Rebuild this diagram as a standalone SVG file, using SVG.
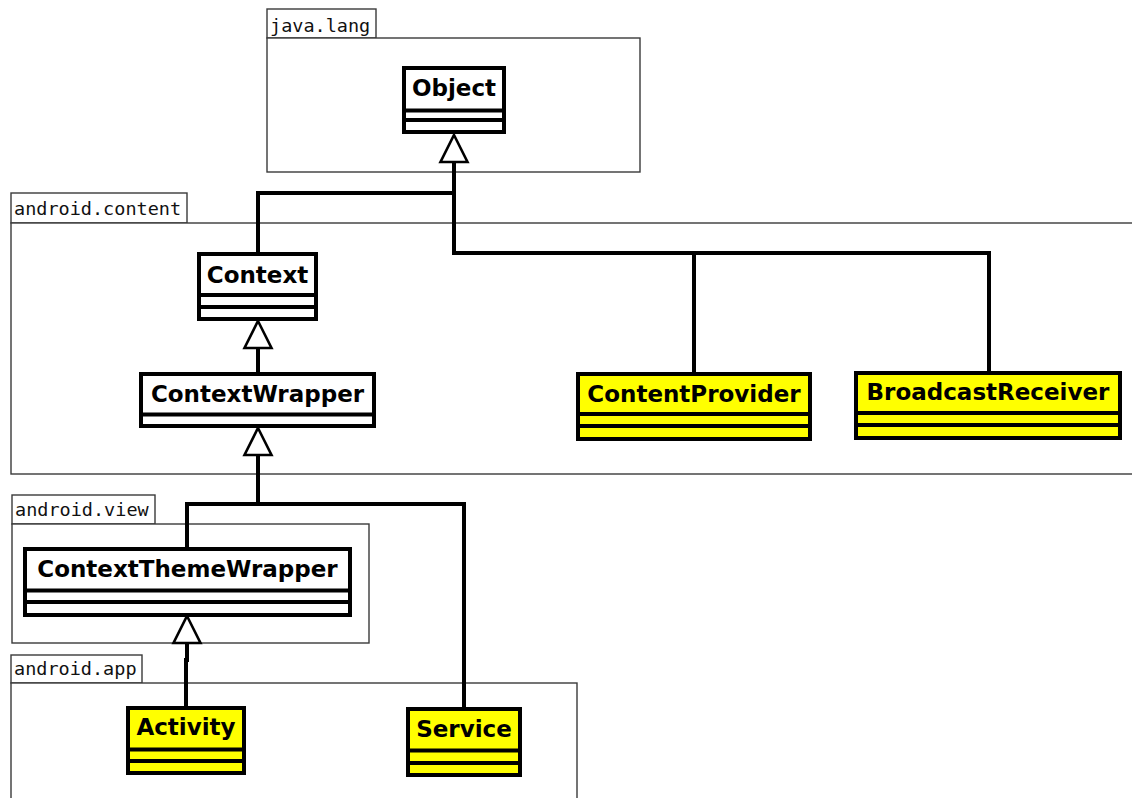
<svg xmlns="http://www.w3.org/2000/svg" width="1132" height="798" viewBox="0 0 1132 798">
  <style>
    .pkg { fill: #ffffff; stroke: #3a3a3a; stroke-width: 1.4; }
    .pkgLabel { font-family: "DejaVu Sans Mono", "Liberation Mono", monospace; font-size: 18.5px; fill: #111; }
    .cls { stroke: #000; stroke-width: 4; }
    .plain { fill: #ffffff; }
    .hot { fill: #ffff00; }
    .sep { stroke: #000; stroke-width: 4; }
    .name { font-family: "DejaVu Sans", "Liberation Sans", sans-serif; font-weight: bold; font-size: 23px; fill: #000; text-anchor: middle; }
    .wire { fill: none; stroke: #000; stroke-width: 4; stroke-linejoin: miter; }
    .head { fill: #ffffff; stroke: #000; stroke-width: 2.6; stroke-linejoin: miter; }
  </style>
  <defs>
    <!-- hollow generalization triangle, tip at origin, pointing up -->
    <path id="gen" d="M0,0 L13.5,27 L-13.5,27 Z"/>
  </defs>

  <rect width="1132" height="798" fill="#ffffff"/>

  <!-- packages -->
  <g id="pkg-java-lang">
    <rect class="pkg" x="267" y="9" width="109" height="29"/>
    <rect class="pkg" x="267" y="38" width="373" height="134"/>
    <text class="pkgLabel" x="270" y="32">java.lang</text>
  </g>
  <g id="pkg-android-content">
    <rect class="pkg" x="11" y="193" width="176" height="30"/>
    <rect class="pkg" x="11" y="223" width="1140" height="251"/>
    <text class="pkgLabel" x="14" y="215">android.content</text>
  </g>
  <g id="pkg-android-view">
    <rect class="pkg" x="12" y="495" width="143" height="29"/>
    <rect class="pkg" x="12" y="524" width="357" height="119"/>
    <text class="pkgLabel" x="15" y="516">android.view</text>
  </g>
  <g id="pkg-android-app">
    <rect class="pkg" x="11" y="655" width="131" height="28"/>
    <rect class="pkg" x="11" y="683" width="566" height="130"/>
    <text class="pkgLabel" x="14" y="675">android.app</text>
  </g>

  <!-- connectors -->
  <g id="connectors">
    <!-- Context, ContentProvider, BroadcastReceiver -> Object -->
    <path class="wire" d="M454,161 V253 H989 V371"/>
    <path class="wire" d="M454,193 H258 V252"/>
    <path class="wire" d="M694,253 V372"/>
    <!-- ContextWrapper -> Context -->
    <path class="wire" d="M258,346 V373"/>
    <!-- ContextThemeWrapper, Service -> ContextWrapper -->
    <path class="wire" d="M258,454 V504 H187 V547"/>
    <path class="wire" d="M258,504 H464 V707"/>
    <!-- Activity -> ContextThemeWrapper -->
    <path class="wire" d="M187,641 V660 H186 V706"/>
    <use href="#gen" class="head" x="454" y="135"/>
    <use href="#gen" class="head" x="258" y="321"/>
    <use href="#gen" class="head" x="258" y="428"/>
    <use href="#gen" class="head" x="187" y="616"/>
  </g>

  <!-- classes -->
  <g id="Object">
    <rect class="cls plain" x="404" y="68" width="100" height="64"/>
    <line class="sep" x1="404" y1="110.5" x2="504" y2="110.5"/>
    <line class="sep" x1="404" y1="120" x2="504" y2="120"/>
    <text class="name" x="454" y="96">Object</text>
  </g>
  <g id="Context">
    <rect class="cls plain" x="199" y="254" width="117" height="65"/>
    <line class="sep" x1="199" y1="295" x2="316" y2="295"/>
    <line class="sep" x1="199" y1="307" x2="316" y2="307"/>
    <text class="name" x="257.5" y="283">Context</text>
  </g>
  <g id="ContextWrapper">
    <rect class="cls plain" x="141" y="374" width="233" height="52"/>
    <line class="sep" x1="141" y1="414.5" x2="374" y2="414.5"/>
    <text class="name" x="257.5" y="402">ContextWrapper</text>
  </g>
  <g id="ContentProvider">
    <rect class="cls hot" x="578" y="374" width="232" height="65"/>
    <line class="sep" x1="578" y1="414" x2="810" y2="414"/>
    <line class="sep" x1="578" y1="426" x2="810" y2="426"/>
    <text class="name" x="694" y="402">ContentProvider</text>
  </g>
  <g id="BroadcastReceiver">
    <rect class="cls hot" x="856" y="373" width="264" height="65"/>
    <line class="sep" x1="856" y1="413" x2="1120" y2="413"/>
    <line class="sep" x1="856" y1="425" x2="1120" y2="425"/>
    <text class="name" x="988" y="400">BroadcastReceiver</text>
  </g>
  <g id="ContextThemeWrapper">
    <rect class="cls plain" x="25" y="549" width="325" height="66"/>
    <line class="sep" x1="25" y1="590.5" x2="350" y2="590.5"/>
    <line class="sep" x1="25" y1="602" x2="350" y2="602"/>
    <text class="name" x="187.5" y="577">ContextThemeWrapper</text>
  </g>
  <g id="Activity">
    <rect class="cls hot" x="128" y="708" width="116" height="65"/>
    <line class="sep" x1="128" y1="749.5" x2="244" y2="749.5"/>
    <line class="sep" x1="128" y1="761" x2="244" y2="761"/>
    <text class="name" x="186" y="735">Activity</text>
  </g>
  <g id="Service">
    <rect class="cls hot" x="408" y="709" width="112" height="66"/>
    <line class="sep" x1="408" y1="750.5" x2="520" y2="750.5"/>
    <line class="sep" x1="408" y1="763" x2="520" y2="763"/>
    <text class="name" x="464" y="737">Service</text>
  </g>
</svg>
